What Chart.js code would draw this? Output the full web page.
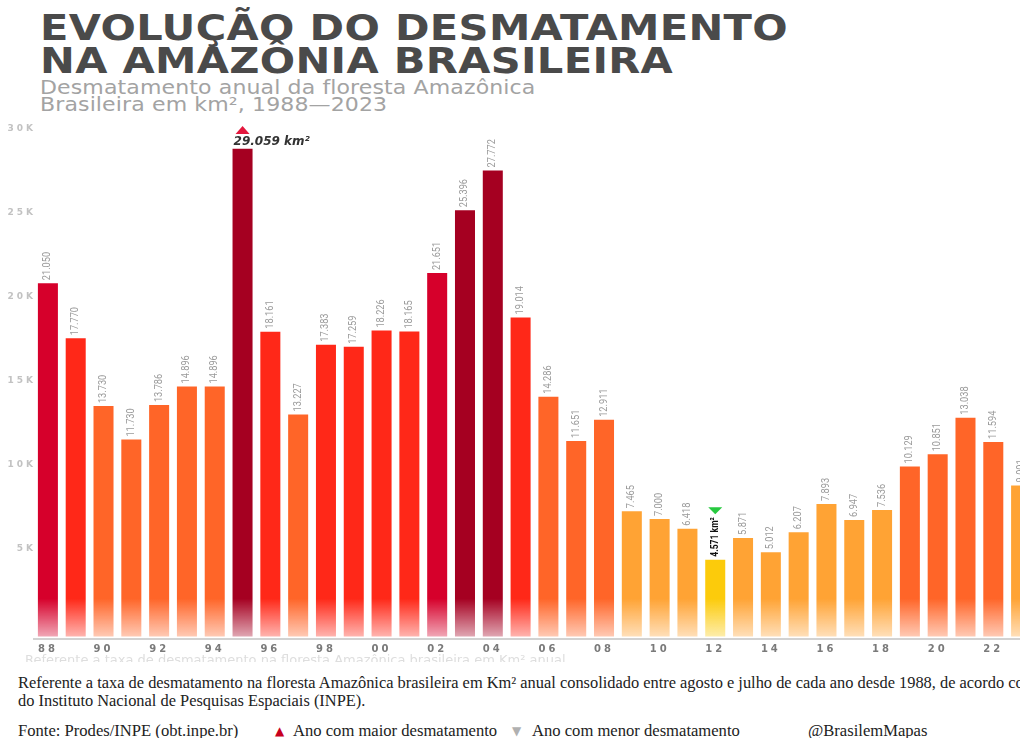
<!DOCTYPE html>
<html lang="pt-BR">
<head>
<meta charset="utf-8">
<title>Evolução do desmatamento na Amazônia brasileira</title>
<script src="https://cdn.jsdelivr.net/npm/chart.js@4.4.1/dist/chart.umd.min.js"></script>
<style>
    html, body { margin: 0; padding: 0; width: 1020px; height: 738px; overflow: hidden; background: #fff; }
    .title {
        position: absolute; left: 40px; top: 11px;
        font: bold 36px "DejaVu Sans"; line-height: 33px; color: #4a4a4a;
        letter-spacing: 0.3px; white-space: nowrap;
        transform: scaleX(1.155); transform-origin: 0 0;
    }
    .subtitle {
        position: absolute; left: 40px; top: 79px;
        font: 19px "DejaVu Sans"; line-height: 17px; color: #a3a3a3;
        letter-spacing: 0.1px; white-space: nowrap;
        transform: scaleX(1.16); transform-origin: 0 0;
    }
    .chart-box { position: absolute; left: 0; top: 115px; width: 1040px; height: 545px; }
    .ghost {
        position: absolute; left: 25px; top: 652px; height: 10px; overflow: hidden;
        font: 13px "DejaVu Sans"; line-height: 16px; color: #dedede; white-space: nowrap;
    }
    .notes {
        position: absolute; left: 18px; top: 674px;
        font: 16.4px "Liberation Serif"; line-height: 18px; color: #222; white-space: nowrap;
    }
    .fonte { position: absolute; top: 722px; font: 16.6px "Liberation Serif"; line-height: 18px; color: #222; white-space: nowrap; }
    .tri { font-family: "DejaVu Sans"; font-size: 12px; }
</style>
</head>
<body>

<div class="title">EVOLUÇÃO DO DESMATAMENTO<br>NA AMAZÔNIA BRASILEIRA</div>
<div class="subtitle">Desmatamento anual da floresta Amazônica<br>Brasileira em km², 1988—2023</div>

<div class="chart-box"><canvas id="desmatamentoChart"></canvas></div>

<div class="ghost">Referente a taxa de desmatamento na floresta Amazônica brasileira em Km² anual</div>
<div class="notes">Referente a taxa de desmatamento na floresta Amazônica brasileira em Km² anual consolidado entre agosto e julho de cada ano desde 1988, de acordo com dados<br>do Instituto Nacional de Pesquisas Espaciais (INPE).</div>

<div class="fonte" style="left:18px">Fonte: Prodes/INPE (obt.inpe.br)</div>
<div class="fonte tri" style="left:275px; color:#c8001e">▲</div>
<div class="fonte" style="left:293px">Ano com maior desmatamento</div>
<div class="fonte tri" style="left:512px; color:#b0b0b0">▼</div>
<div class="fonte" style="left:532px">Ano com menor desmatamento</div>
<div class="fonte" style="left:808px">@BrasilemMapas</div>

<script>
/* =========================================
   1. Data (PRODES / INPE, km² por ano)
   ========================================= */
const years = [
    '1988', '1989', '1990', '1991', '1992', '1993', '1994', '1995', '1996', '1997', '1998', '1999',
    '2000', '2001', '2002', '2003', '2004', '2005', '2006', '2007', '2008', '2009', '2010', '2011',
    '2012', '2013', '2014', '2015', '2016', '2017', '2018', '2019', '2020', '2021', '2022', '2023'
];
const deforestation = [
    21050, 17770, 13730, 11730, 13786, 14896, 14896, 29059, 18161, 13227, 17383, 17259,
    18226, 18165, 21651, 25396, 27772, 19014, 14286, 11651, 12911, 7465, 7000, 6418,
    4571, 5871, 5012, 6207, 7893, 6947, 7536, 10129, 10851, 13038, 11594, 9001
];
const yTicks = [5000, 10000, 15000, 20000, 25000, 30000];

/* =========================================
   2. Helpers
   ========================================= */
// colour band by size of the year's clearing
function barRGB(v) {
    if (v >= 25000) return [165, 0, 33];
    if (v >= 20000) return [214, 0, 43];
    if (v >= 15000) return [255, 40, 24];
    if (v >= 10000) return [255, 101, 40];
    if (v >= 5000) return [255, 163, 52];
    return [252, 203, 11];
}

// solid bar that fades out near the baseline
function barFill(context) {
    const chart = context.chart;
    const [r, g, b] = barRGB(context.raw);
    const solid = `rgb(${r},${g},${b})`;
    if (!chart.chartArea) return solid;
    const base = chart.scales.y.getPixelForValue(0);
    const grad = chart.ctx.createLinearGradient(0, base - 38, 0, base);
    grad.addColorStop(0, solid);
    grad.addColorStop(1, `rgba(${r},${g},${b},0.35)`);
    return grad;
}

// 21050 -> "21.050"
function fmt(v) {
    return String(v).replace(/\B(?=(\d{3})+(?!\d))/g, '.');
}

function drawRotated(ctx, text, x, y, font, color, squeeze) {
    ctx.save();
    ctx.translate(x, y);
    ctx.rotate(-Math.PI / 2);
    ctx.scale(squeeze, 1);
    ctx.font = font;
    ctx.fillStyle = color;
    ctx.textAlign = 'left';
    ctx.textBaseline = 'middle';
    ctx.fillText(text, 0, 0);
    const w = ctx.measureText(text).width * squeeze;
    ctx.restore();
    return w;
}

function triangle(ctx, x, yTop, w, h, up, color) {
    ctx.save();
    ctx.fillStyle = color;
    ctx.beginPath();
    if (up) {
        ctx.moveTo(x, yTop); ctx.lineTo(x + w / 2, yTop + h); ctx.lineTo(x - w / 2, yTop + h);
    } else {
        ctx.moveTo(x - w / 2, yTop); ctx.lineTo(x + w / 2, yTop); ctx.lineTo(x, yTop + h);
    }
    ctx.closePath();
    ctx.fill();
    ctx.restore();
}

/* =========================================
   3. Plugin: spaced axis text + value labels
   ========================================= */
const barLabels = {
    id: 'barLabels',
    beforeDraw(chart) { chart.ctx.letterSpacing = '3px'; },
    beforeDatasetsDraw(chart) { chart.ctx.letterSpacing = '0px'; },
    afterDatasetsDraw(chart) {
        const ctx = chart.ctx;
        const bars = chart.getDatasetMeta(0).data;
        const maxI = deforestation.indexOf(Math.max(...deforestation));
        const minI = deforestation.indexOf(Math.min(...deforestation));

        bars.forEach((bar, i) => {
            if (i === maxI) {
                triangle(ctx, bar.x, 11, 14, 8, true, '#e3173d');
                ctx.save();
                ctx.font = 'italic bold 12px "DejaVu Sans"';
                ctx.fillStyle = '#333';
                ctx.textAlign = 'left';
                ctx.textBaseline = 'alphabetic';
                ctx.fillText(fmt(deforestation[i]) + ' km²', bar.x - 9, 30);
                ctx.restore();
            } else if (i === minI) {
                const len = drawRotated(ctx, fmt(deforestation[i]) + ' km²', bar.x, bar.y - 3,
                    'bold 11px Roboto', '#111', 0.78);
                triangle(ctx, bar.x, bar.y - 3 - len - 10, 14, 7, false, '#27c93f');
            } else {
                drawRotated(ctx, fmt(deforestation[i]), bar.x, bar.y - 3,
                    '10px Roboto', '#9a9a9a', 0.92);
            }
        });
    }
};

/* =========================================
   4. Chart
   ========================================= */
new Chart(document.getElementById('desmatamentoChart'), {
    type: 'bar',
    data: {
        labels: years,
        datasets: [{
            data: deforestation,
            backgroundColor: barFill,
            borderWidth: 0,
            barPercentage: 0.72,
            categoryPercentage: 1
        }]
    },
    options: {
        responsive: true,
        maintainAspectRatio: false,
        animation: false,
        layout: { padding: { top: 18, right: 5, bottom: 1, left: 0 } },
        plugins: { legend: { display: false }, tooltip: { enabled: false } },
        scales: {
            x: {
                grid: { display: false, drawTicks: false },
                border: { display: true, color: '#d2d2d2', width: 2 },
                afterFit: s => { s.height = 20; },
                ticks: {
                    autoSkip: false,
                    maxRotation: 0,
                    padding: 4,
                    color: '#7a7a7a',
                    font: { family: 'DejaVu Sans', weight: 'bold', size: 10 },
                    callback: (v, i) => (i % 2 === 0 ? years[i].slice(2) : null)
                }
            },
            y: {
                min: -150,
                max: 30000,
                grid: { display: false, drawTicks: false },
                border: { display: false },
                afterBuildTicks: s => { s.ticks = yTicks.map(v => ({ value: v })); },
                afterFit: s => { s.width = 34; },
                ticks: {
                    padding: -2,
                    labelOffset: -4,
                    color: '#c2c2c2',
                    font: { family: 'DejaVu Sans', weight: 'bold', size: 9 },
                    callback: v => (v / 1000) + 'K'
                }
            }
        }
    },
    plugins: [barLabels]
});
</script>
</body>
</html>
